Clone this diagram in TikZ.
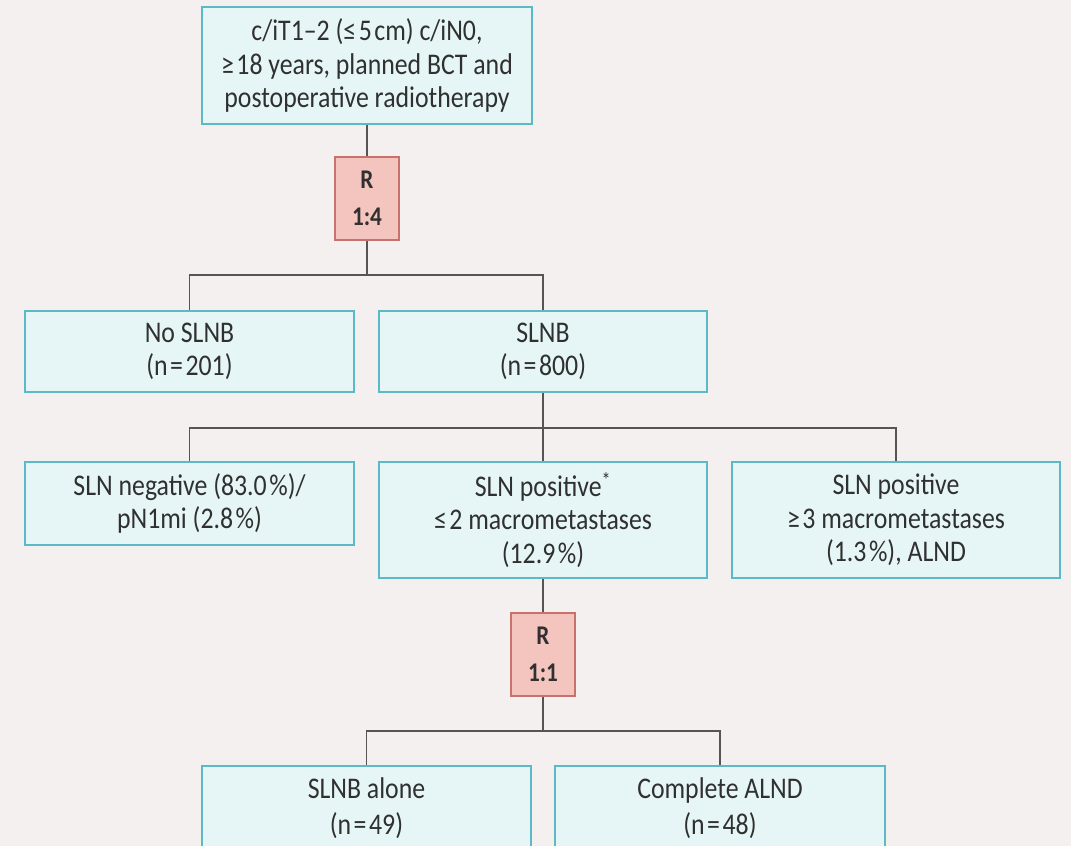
\documentclass[tikz,border=0pt]{standalone}
\usepackage{fontspec}
\setmainfont{Carlito}[FakeStretch=0.86]
\definecolor{bg}{HTML}{F4F0EF}
\definecolor{boxfill}{HTML}{E6F6F6}
\definecolor{boxline}{HTML}{5CBAC6}
\definecolor{rfill}{HTML}{F4C4BF}
\definecolor{rline}{HTML}{C8726C}
\definecolor{txt}{HTML}{303030}
\definecolor{conn}{HTML}{555555}
\newcommand{\tsp}{\kern2.5pt}
\tikzset{
  infobox/.style={draw=boxline, fill=boxfill, line width=2.2pt, inner sep=0pt, align=center,
    text=txt, font=\fontsize{30}{33.5}\selectfont},
  rbox/.style={draw=rline, fill=rfill, line width=2pt, inner sep=0pt, align=center,
    minimum width=64pt, minimum height=83pt, text=txt, font=\bfseries\fontsize{27}{37}\selectfont},
  conline/.style={draw=conn, line width=1.8pt}
}
\begin{document}
\begin{tikzpicture}[x=1pt,y=-1pt]
\fill[bg] (0,0) rectangle (1071,846);
\useasboundingbox (0,0) rectangle (1071,846);
\clip (0,0) rectangle (1071,846);

\node[infobox, minimum width=330pt, minimum height=117pt] (top) at (367,65.5)
  {c/iT1–2 (≤\tsp5\tsp cm) c/iN0,\\ ≥\tsp18 years, planned BCT and\\ postoperative radiotherapy};
\node[rbox] (r1) at (367,198.5) {R\\1:4};

\node[infobox, minimum width=329pt, minimum height=81pt] (nos) at (189.5,351.5) {No SLNB\\(n\tsp=\tsp201)};
\node[infobox, minimum width=328pt, minimum height=81pt] (slnb) at (543,351.5) {SLNB\\(n\tsp=\tsp800)};

\node[infobox, minimum width=329pt, minimum height=83pt] (neg) at (189.5,503.5)
  {SLN negative (83.0\tsp\%)/\\pN1mi (2.8\tsp\%)};
\node[infobox, minimum width=328pt, minimum height=116pt] (pos) at (543,520)
  {SLN positive\textsuperscript{*}\\≤\tsp2 macrometastases\\(12.9\tsp\%)};
\node[infobox, minimum width=328pt, minimum height=116pt] (pos3) at (896,520)
  {SLN positive\\≥\tsp3 macrometastases\\(1.3\tsp\%), ALND};

\node[rbox] (r2) at (543,654.5) {R\\1:1};

\node[infobox, minimum width=329pt, minimum height=84pt, font=\fontsize{30}{36}\selectfont] (alone) at (366.5,808) {SLNB alone\\(n\tsp=\tsp49)};
\node[infobox, minimum width=330pt, minimum height=84pt, font=\fontsize{30}{36}\selectfont] (ald) at (720,808) {Complete ALND\\(n\tsp=\tsp48)};

\coordinate (h1) at (367,275);
\coordinate (h2) at (543,428);
\coordinate (h3) at (543,731);

\draw[conline] (top.south) -- (r1.north);
\draw[conline] (r1.south) -- (h1);
\draw[conline] (nos.north) |- (h1) -| (slnb.north);

\draw[conline] (slnb.south) -- (h2);
\draw[conline] (neg.north) |- (h2) -| (pos3.north);
\draw[conline] (h2) -- (pos.north);

\draw[conline] (pos.south) -- (r2.north);
\draw[conline] (r2.south) -- (h3);
\draw[conline] (alone.north) |- (h3) -| (ald.north);
\end{tikzpicture}
\end{document}
